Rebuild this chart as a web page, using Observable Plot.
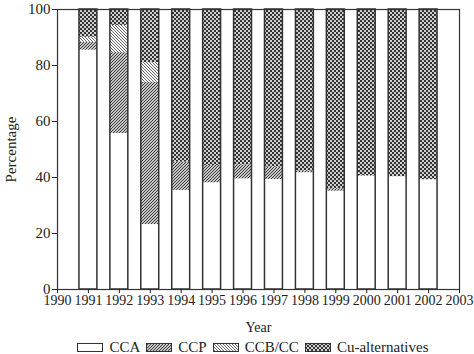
<!DOCTYPE html>
<html><head><meta charset="utf-8">
<script src="https://cdn.jsdelivr.net/npm/d3@7"></script>
<script src="https://cdn.jsdelivr.net/npm/@observablehq/plot@0.6"></script>
<style>
body{margin:0;background:#fff;font-family:"Liberation Serif",serif;color:#222;}
#legend{display:flex;align-items:center;justify-content:center;font-size:15px;line-height:16px;padding-left:58px;padding-right:26px;margin-top:3px;}
#legend .item{display:flex;align-items:center;margin:0 3px;}
#legend svg{margin-right:6px;}
</style></head><body>
<div id="chart"></div>
<div id="legend"></div>
<script>
const years = [1991,1992,1993,1994,1995,1996,1997,1998,1999,2000,2001,2002];
const tickYears = [1990,1991,1992,1993,1994,1995,1996,1997,1998,1999,2000,2001,2002,2003];
const yTicks = [0,20,40,60,80,100];
const series = ["CCA","CCP","CCB/CC","Cu-alternatives"];
const cca = [85.5,55.7,23.2,35.4,38.1,39.5,39.3,41.7,35.1,40.5,40.3,39.2];
const ccp = [2.8,28.9,50.8,10.1,6.2,5.0,4.4,0.6,0.9,0.2,0,0];
const ccb = [1.8,9.7,7.0,0,0,0,0,0,0,0,0,0];
const cu  = [9.9,5.7,19.0,54.5,55.7,55.5,56.3,57.7,64.0,59.3,59.7,60.8];
const patternIds = ["url(#pCCA)","url(#pCCP)","url(#pCCB)","url(#pCU)"];

const seriesValues = [cca, ccp, ccb, cu];
const rows = [];
years.forEach((yr, i) => {
  let acc = 0;
  series.forEach((s, k) => {
    const v = seriesValues[k][i];
    rows.push({year: yr, series: s, value: v, y1: acc, y2: acc + v});
    acc += v;
  });
});

const half = 0.29;
const chart = Plot.plot({
  width: 474, height: 336,
  marginLeft: 57, marginRight: 15, marginTop: 9, marginBottom: 47,
  style: {fontFamily: "'Liberation Serif', serif", fontSize: "14px", color: "#222", background: "#fff"},
  x: {domain: [1990, 2003]},
  y: {domain: [0, 100]},
  color: {type: "ordinal", domain: series, range: patternIds},
  marks: [
    Plot.rect(rows, {x1: d => d.year - half, x2: d => d.year + half, y1: "y1", y2: "y2", fill: "series"}),
    Plot.rect(years, {x1: d => d - half, x2: d => d + half, y1: 0, y2: 100, fill: "none", stroke: "#333", strokeWidth: 1.5}),
    Plot.frame({stroke: "#333", strokeWidth: 1.2}),
    Plot.axisX({ticks: tickYears, tickFormat: d => String(d), tickSize: 4, tickPadding: 2, label: "Year", labelAnchor: "center", labelArrow: "none", labelOffset: 42, fontSize: 14}),
    Plot.axisY({ticks: yTicks, tickSize: 5, tickPadding: 2, label: "Percentage", labelAnchor: "center", labelArrow: "none", labelOffset: 52, fontSize: 15})
  ]
});

const defs = `
<defs>
 <pattern id="pCCA" patternUnits="userSpaceOnUse" width="4" height="4"><rect width="4" height="4" fill="#fff"/></pattern>
 <pattern id="pCCP" patternUnits="userSpaceOnUse" width="3" height="3">
   <rect width="3" height="3" fill="#fff"/>
   <path d="M-1,1 L1,-1 M0,3 L3,0 M2,4 L4,2" stroke="#333" stroke-width="1.1"/>
 </pattern>
 <pattern id="pCCB" patternUnits="userSpaceOnUse" width="3" height="3">
   <rect width="3" height="3" fill="#fff"/>
   <path d="M-1,2 L1,4 M0,0 L3,3 M2,-1 L4,1" stroke="#555" stroke-width="0.9"/>
 </pattern>
 <pattern id="pCU" patternUnits="userSpaceOnUse" width="4" height="4">
   <rect width="4" height="4" fill="#d0d0d0"/>
   <rect width="2" height="2" fill="#333"/>
   <rect x="2" y="2" width="2" height="2" fill="#333"/>
 </pattern>
</defs>`;
chart.insertAdjacentHTML("afterbegin", defs);
document.getElementById("chart").appendChild(chart);

const legend = document.getElementById("legend");
series.forEach((s, k) => {
  const item = document.createElement("div");
  item.className = "item";
  item.innerHTML = `<svg width="26" height="9"><rect x="0.5" y="0.5" width="25" height="8" fill="${patternIds[k]}" stroke="#333" stroke-width="1"/></svg><span>${s}</span>`;
  legend.appendChild(item);
});
</script>
</body></html>
